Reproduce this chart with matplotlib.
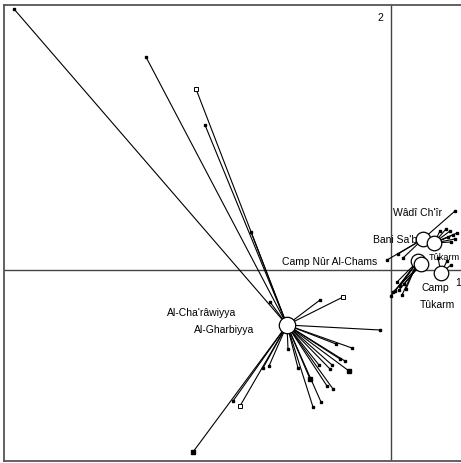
import matplotlib
matplotlib.use('Agg')
import matplotlib.pyplot as plt
from matplotlib import font_manager

# ---------------- data (CA coordinates) ----------------
# main cluster: Al-Cha'râwiyya / Al-Gharbiyya
main_center = (-1.04, -0.55)
main_end_x = [-3.77, -2.45, -1.95, -1.86, -1.40, -1.21,
              -0.48, -0.71, -0.11,
              -0.39, -0.46, -0.51, -0.42, -0.59, -0.61, -0.72, -0.58, -0.64,
              -0.70, -0.78, -0.81, -0.93, -1.03, -0.55,
              -1.98, -1.51, -1.28, -1.22, -1.58]
main_end_y = [2.61, 2.13, 1.81, 1.45, 0.38, -0.32,
              -0.27, -0.30, -0.60,
              -0.78, -0.91, -0.89, -1.01, -0.95, -0.99, -0.95, -1.19, -1.16,
              -1.32, -1.37, -1.09, -0.98, -0.79, -0.74,
              -1.82, -1.36, -0.98, -0.96, -1.31]
# marker style of each end: 0 small dot, 1 open square, 2 filled square
main_end_kind = [0, 0, 1, 0, 0, 0,
                 1, 0, 0,
                 0, 0, 0, 2, 0, 0, 0, 0, 0,
                 0, 0, 2, 0, 0, 0,
                 2, 1, 0, 0, 0]

# right cluster (camps / villages)
right_cx = [0.32, 0.43, 0.27, 0.30, 0.50]
right_cy = [0.31, 0.27, 0.09, 0.06, -0.03]
right_end_x = [[-0.04, 0.64, 0.07, 0.12],
               [0.59, 0.62, 0.55, 0.64, 0.57, 0.49, 0.66, 0.60],
               [0.00, 0.06, 0.11, 0.15, 0.04, 0.09],
               [0.02, 0.08, 0.13],
               [0.56, 0.47, 0.60]]
right_end_y = [[0.10, 0.59, 0.16, 0.12],
               [0.39, 0.35, 0.41, 0.31, 0.33, 0.39, 0.37, 0.28],
               [-0.26, -0.12, -0.25, -0.19, -0.21, -0.16],
               [-0.22, -0.20, -0.14],
               [0.09, 0.12, 0.05]]

label_text = ["Al-Cha'râwiyya", "Al-Gharbiyya", "Wâdî Ch'îr", "Bani Sa'b",
              "Camp Nûr Al-Chams", "Tûkarm", "Camp", "Tûkarm"]
label_x = [-2.24, -1.97, 0.02, -0.18, -0.14, 0.38, 0.44, 0.46]
label_y = [-0.42, -0.59, 0.58, 0.31, 0.09, 0.13, -0.17, -0.34]
label_ha = ['left', 'left', 'left', 'left', 'right', 'left', 'center', 'center']
axis_names = ["1", "2"]

# ---------------- drawing ----------------
names = {f.name for f in font_manager.fontManager.ttflist}
fam = [f for f in ['Liberation Sans', 'DejaVu Sans'] if f in names]
plt.rcParams['font.family'] = fam

W, H = 461, 464
fig = plt.figure(figsize=(W / 100, H / 100), dpi=100)
left_px, right_px, top_px, bot_px = 4, 530, 6, 462
ox, oy = 391, 271
ax = fig.add_axes([left_px / W, 1 - bot_px / H,
                   (right_px - left_px) / W, (bot_px - top_px) / H])
ax.set_xlim((left_px - ox) / 100, (right_px - ox) / 100)
ax.set_ylim((oy - bot_px) / 100, (oy - top_px) / 100)
ax.set_xticks([])
ax.set_yticks([])
for s in ax.spines.values():
    s.set_color('#555555')
    s.set_linewidth(1.3)

ax.axhline(0, color='#444444', lw=1.0, zorder=1)
ax.axvline(0, color='#444444', lw=1.0, zorder=1)

lw = 0.8
cx, cy = main_center
for x, y, k in zip(main_end_x, main_end_y, main_end_kind):
    ax.plot([cx, x], [cy, y], color='black', lw=lw, zorder=2)
    if k == 0:
        ax.plot(x, y, 's', ms=1.8, color='black', zorder=3)
    elif k == 1:
        ax.plot(x, y, 's', ms=3.0, mfc='white', mec='black', mew=0.7, zorder=3)
    else:
        ax.plot(x, y, 's', ms=3.2, color='black', zorder=3)
ax.scatter([cx], [cy], s=140, facecolor='white', edgecolor='black',
           linewidth=0.9, zorder=5)

for i in range(len(right_cx)):
    for x, y in zip(right_end_x[i], right_end_y[i]):
        ax.plot([right_cx[i], x], [right_cy[i], y], color='black', lw=lw, zorder=2)
        ax.plot(x, y, 's', ms=1.8, color='black', zorder=3)
ax.scatter(right_cx, right_cy, s=110, facecolor='white', edgecolor='black',
           linewidth=0.9, zorder=5)

for t, x, y, ha in zip(label_text, label_x, label_y, label_ha):
    fs = 6.6 if (t == "Tûkarm" and ha == 'left') else 7.5
    ax.text(x, y, t, ha=ha, va='center', fontsize=fs, zorder=6)

ax.text(0.67, -0.12, axis_names[0], ha='center', va='center', fontsize=7.5)
ax.text(-0.11, 2.53, axis_names[1], ha='center', va='center', fontsize=7.5)

fig.savefig('out.png', dpi=100)
